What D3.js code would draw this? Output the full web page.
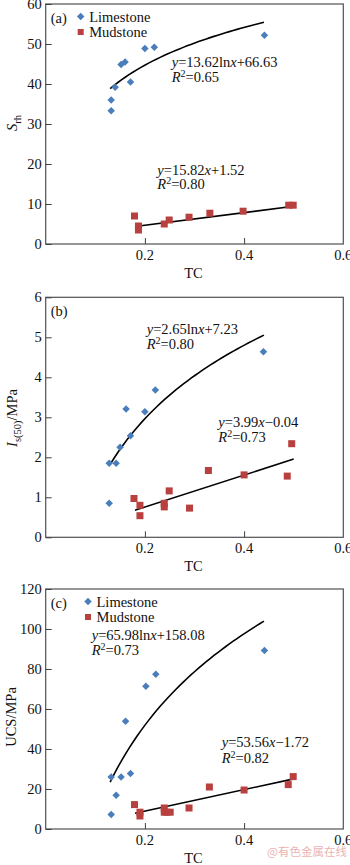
<!DOCTYPE html>
<html lang="en">
<head>
<meta charset="utf-8">
<title>TC scatter panels</title>
<script src="https://d3js.org/d3.v7.min.js"></script>
<style>
  body { margin: 0; background: #fff; }
  svg text { font-family: "Liberation Serif", "DejaVu Serif", serif; fill: #111; }
  .frame { fill: none; stroke: #505050; stroke-width: 1.2; }
  .tick line { stroke: #404040; }
</style>
</head>
<body>
<svg id="chart"></svg>
<script>
// ---------------- data ----------------
var xTicks = [0.2, 0.4, 0.6]

// (a) S_rh
var aLime = [[0.132, 33.3], [0.132, 36.0], [0.140, 39.2], [0.152, 44.9], [0.160, 45.5],
             [0.171, 40.5], [0.200, 48.9], [0.219, 49.2], [0.441, 52.2]]
var aMud = [[0.179, 7.0], [0.187, 4.5], [0.187, 3.5], [0.239, 5.0], [0.249, 6.0],
            [0.289, 6.7], [0.331, 7.7], [0.398, 8.2], [0.490, 9.7], [0.499, 9.7]]
var aTicks = [0, 10, 20, 30, 40, 50, 60]

// (b) Is(50)
var bLime = [[0.128, 0.85], [0.128, 1.85], [0.142, 1.85], [0.150, 2.25], [0.162, 3.21],
             [0.171, 2.54], [0.200, 3.14], [0.221, 3.68], [0.439, 4.64]]
var bMud = [[0.178, 0.97], [0.190, 0.80], [0.190, 0.54], [0.239, 0.85], [0.239, 0.76],
            [0.249, 1.16], [0.290, 0.73], [0.328, 1.67], [0.400, 1.56], [0.487, 1.53], [0.496, 2.34]]
var bTicks = [0, 1, 2, 3, 4, 5, 6]

// (c) UCS
var cLime = [[0.132, 7.2], [0.132, 26.0], [0.142, 16.9], [0.152, 26.0], [0.161, 53.9],
             [0.171, 27.7], [0.202, 71.4], [0.222, 77.4], [0.441, 89.2]]
var cMud = [[0.179, 12.2], [0.190, 8.4], [0.190, 6.5], [0.239, 10.5], [0.239, 8.4],
            [0.244, 8.4], [0.251, 8.4], [0.289, 10.5], [0.330, 21.0], [0.400, 19.5],
            [0.489, 22.2], [0.499, 26.2]]
var cTicks = [0, 20, 40, 60, 80, 100, 120]

// fit coefficients: log fit for limestone, linear fit for mudstone
var fits = {
  a: {log: [13.62, 66.63], lin: [15.82, 1.52]},
  b: {log: [2.65, 7.23], lin: [3.99, -0.04]},
  c: {log: [65.98, 158.08], lin: [53.56, -1.72]}
}

// ---------------- layout ----------------
var W = 350, H = 865
var left = 45.7, right = 343.3, plotH = 240
var blue = "#4a7ebb", red = "#b8403e"

var svg = d3.select("#chart").attr("width", W).attr("height", H)

var xScale = d3.scaleLinear().domain([0, 0.6]).range([left, right])

var panels = [
  {id: "a", top: 4, lime: aLime, mud: aMud, ticks: aTicks, legend: true, legX: 80.7,
   logFrom: 0.13, eq1: [171.7, 66.5, 81.5], eq2: [157.3, 175, 188.5],
   eqText: ["13.62ln", "+66.63", "0.65", "15.82", "+1.52", "0.80"]},
  {id: "b", top: 297.3, lime: bLime, mud: bMud, ticks: bTicks, legend: false,
   logFrom: 0.132, eq1: [146.7, 333.5, 348.5], eq2: [218.3, 427, 442],
   eqText: ["2.65ln", "+7.23", "0.80", "3.99", "\u22120.04", "0.73"]},
  {id: "c", top: 589, lime: cLime, mud: cMud, ticks: cTicks, legend: true, legX: 88,
   logFrom: 0.13, eq1: [91.7, 640, 655], eq2: [221.7, 746.5, 762.5],
   eqText: ["65.98ln", "+158.08", "0.73", "53.56", "\u22121.72", "0.82"]}
]

panels.forEach(function(p) {
  var yMax = p.ticks[p.ticks.length - 1]
  var y = d3.scaleLinear().domain([0, yMax]).range([p.top + plotH, p.top])
  var g = svg.append("g")
  var fit = fits[p.id]

  // frame
  g.append("rect").attr("class", "frame")
    .attr("x", left).attr("y", p.top).attr("width", right - left).attr("height", plotH)

  // y axis (ticks pointing inward)
  var yAxis = d3.axisRight(y).tickValues(p.ticks).tickSize(6).tickFormat("")
  g.append("g").attr("transform", "translate(" + left + ",0)").call(yAxis)
    .call(s => s.select(".domain").remove())
  g.selectAll(".ylab").data(p.ticks).join("text")
    .attr("x", left - 4).attr("y", d => y(d) + 5)
    .attr("text-anchor", "end").style("font-size", "14.5px").text(d => d)

  // x axis
  var xAxis = d3.axisTop(xScale).tickValues(xTicks.slice(0, 2)).tickSize(6).tickFormat("")
  g.append("g").attr("transform", "translate(0," + (p.top + plotH) + ")").call(xAxis)
    .call(s => s.select(".domain").remove())
  g.selectAll(".xlab").data(xTicks).join("text")
    .attr("x", d => xScale(d)).attr("y", p.top + plotH + 16)
    .attr("text-anchor", "middle").style("font-size", "14.5px").text(d => d)
  g.append("text").attr("x", (left + right) / 2 - 1).attr("y", p.top + plotH + 34)
    .attr("text-anchor", "middle").style("font-size", "14.5px").text("TC")

  // fit curves
  var logPts = d3.range(0, 41).map(i => {
    var xv = p.logFrom + (0.44 - p.logFrom) * i / 40
    return [xv, fit.log[0] * Math.log(xv) + fit.log[1]]
  })
  var linPts = [0.18, 0.5].map(xv => [xv, fit.lin[0] * xv + fit.lin[1]])
  var line = d3.line().x(d => xScale(d[0])).y(d => y(d[1]))
  g.append("path").attr("d", line(logPts)).attr("fill", "none")
    .attr("stroke", "#000").attr("stroke-width", 1.6)
  g.append("path").attr("d", line(linPts)).attr("fill", "none")
    .attr("stroke", "#000").attr("stroke-width", 1.6)

  // markers
  var diamond = d3.symbol().type(d3.symbolDiamond2).size(36)
  g.selectAll(".lime").data(p.lime).join("path")
    .attr("transform", d => "translate(" + xScale(d[0]) + "," + y(d[1]) + ")")
    .attr("d", diamond).attr("fill", blue)
  g.selectAll(".mud").data(p.mud).join("rect")
    .attr("x", d => xScale(d[0]) - 3.5).attr("y", d => y(d[1]) - 3.5)
    .attr("width", 7).attr("height", 7).attr("fill", red)

  // panel letter
  g.append("text").attr("x", left + 5).attr("y", p.top + 19)
    .style("font-size", "14.5px").text("(" + p.id + ")")

  // legend
  if (p.legend) {
    g.append("path").attr("transform", "translate(" + p.legX + "," + (p.top + 12.5) + ")")
      .attr("d", diamond).attr("fill", blue)
    g.append("rect").attr("x", p.legX - 3).attr("y", p.top + 25).attr("width", 6).attr("height", 6)
      .attr("fill", red)
    g.append("text").attr("x", p.legX + 8.5).attr("y", p.top + 17.5)
      .style("font-size", "14.5px").text("Limestone")
    g.append("text").attr("x", p.legX + 8.5).attr("y", p.top + 33)
      .style("font-size", "14.5px").text("Mudstone")
  }

  // equations
  var t = p.eqText
  var e1 = g.append("text").attr("x", p.eq1[0]).attr("y", p.eq1[1]).style("font-size", "14.5px")
  e1.append("tspan").style("font-style", "italic").text("y")
  e1.append("tspan").text("=" + t[0])
  e1.append("tspan").style("font-style", "italic").text("x")
  e1.append("tspan").text(t[1])
  var r1 = g.append("text").attr("x", p.eq1[0]).attr("y", p.eq1[2]).style("font-size", "14.5px")
  r1.append("tspan").style("font-style", "italic").text("R")
  r1.append("tspan").attr("dy", -5).style("font-size", "10px").text("2")
  r1.append("tspan").attr("dy", 5).text("=" + t[2])

  var e2 = g.append("text").attr("x", p.eq2[0]).attr("y", p.eq2[1]).style("font-size", "14.5px")
  e2.append("tspan").style("font-style", "italic").text("y")
  e2.append("tspan").text("=" + t[3])
  e2.append("tspan").style("font-style", "italic").text("x")
  e2.append("tspan").text(t[4])
  var r2 = g.append("text").attr("x", p.eq2[0]).attr("y", p.eq2[2]).style("font-size", "14.5px")
  r2.append("tspan").style("font-style", "italic").text("R")
  r2.append("tspan").attr("dy", -5).style("font-size", "10px").text("2")
  r2.append("tspan").attr("dy", 5).text("=" + t[5])
})

// y axis titles
var ya = svg.append("text").attr("transform", "translate(17,123) rotate(-90)")
  .attr("text-anchor", "middle").style("font-size", "14.5px")
ya.append("tspan").style("font-style", "italic").text("S")
ya.append("tspan").attr("dy", 4).style("font-size", "10.5px").text("rh")

var yb = svg.append("text").attr("transform", "translate(17,418) rotate(-90)")
  .attr("text-anchor", "middle").style("font-size", "14.5px")
yb.append("tspan").style("font-style", "italic").text("I")
yb.append("tspan").attr("dy", 4).style("font-size", "10.5px").text("s(50)")
yb.append("tspan").attr("dy", -4).text("/MPa")

svg.append("text").attr("transform", "translate(16,717) rotate(-90)")
  .attr("text-anchor", "middle").style("font-size", "14.5px").text("UCS/MPa")

// watermark
svg.append("text").attr("x", 347).attr("y", 856).attr("text-anchor", "end")
  .style("font-family", "'Noto Sans CJK SC', sans-serif").style("font-size", "11.5px")
  .style("fill", "#eab4b4").text("@有色金属在线")
</script>
</body>
</html>
